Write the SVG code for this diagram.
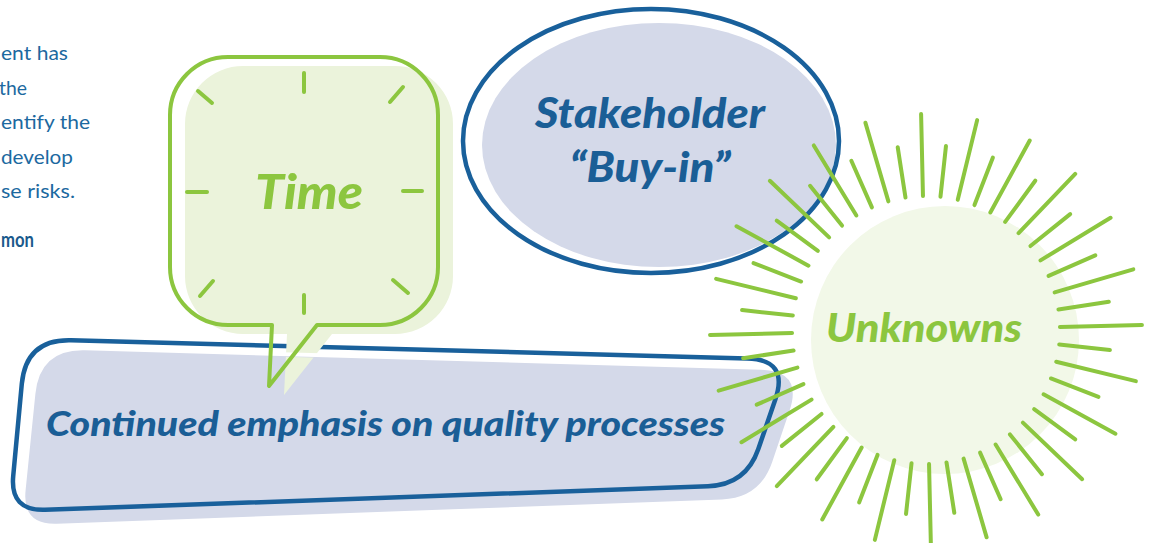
<svg xmlns="http://www.w3.org/2000/svg" xmlns:xlink="http://www.w3.org/1999/xlink" width="1151" height="543" viewBox="0 0 1151 543">
  <style>
    .body { font-family: Lato, "Open Sans", sans-serif; font-size: 20px; fill: #1c69a0; }
    .bodyb { font-family: Lato, "Open Sans", sans-serif; font-size: 20px; font-weight: 700; fill: #1a5a8c; }
    .lbl { font-family: Lato, "Open Sans", sans-serif; font-weight: 900; font-style: italic; }
    .blue { fill: #1a5e96; }
    .green { fill: #8cc63f; }
    .box-fill { fill: #d4d9e9; }
    .box-line { fill: none; stroke: #19609b; stroke-width: 4.5; }
    .time-shadow { fill: #ebf3db; }
    .time-line { fill: none; stroke: #8cc63f; stroke-width: 4; stroke-linejoin: round; }
    .tick { stroke: #8cc63f; stroke-width: 4; stroke-linecap: round; }
    .ray { stroke: #8cc63f; stroke-width: 4; stroke-linecap: round; }
  </style>
  <defs>
    <path id="boxPath" d="M71,340.2 L747,358.4 Q789,359.5 775.4,399.2 L758.3,449.1 Q746,485 708,486.3 L45,509.8 Q10,511 13.2,476.2 L21.8,383.8 Q26,339 71,340.2 Z"/>
    <path id="timePath" d="M228,57 H380 A58,58 0 0 1 438,115 V267 A58,58 0 0 1 380,325 H317 L269,386 L272,325 H228 A58,58 0 0 1 170,267 V115 A58,58 0 0 1 228,57 Z"/>
    <mask id="noBoxEdge" maskUnits="userSpaceOnUse" x="0" y="0" width="1151" height="543">
      <rect x="0" y="0" width="1151" height="543" fill="#fff"/>
      <use xlink:href="#boxPath" fill="none" stroke="#000" stroke-width="4.5"/>
    </mask>
    <line id="rl" class="ray" x1="134" y1="0" x2="216" y2="0"/>
    <line id="rs" class="ray" x1="134" y1="0" x2="185" y2="0"/>
  </defs>

  <g id="left-text">
    <text class="body" x="1" y="60" textLength="67" lengthAdjust="spacingAndGlyphs">ent has</text>
    <text class="body" x="-1" y="95" textLength="28" lengthAdjust="spacingAndGlyphs">the</text>
    <text class="body" x="1" y="129" textLength="89" lengthAdjust="spacingAndGlyphs">entify the</text>
    <text class="body" x="1" y="163.5" textLength="72" lengthAdjust="spacingAndGlyphs">develop</text>
    <text class="body" x="1" y="198" textLength="74" lengthAdjust="spacingAndGlyphs">se risks.</text>
    <text class="bodyb" x="1" y="247" textLength="33" lengthAdjust="spacingAndGlyphs">mon</text>
  </g>

  <g id="node-continued">
    <path class="box-fill" d="M85,350.3 L761,369.8 Q803,371 789.5,410.8 L772.2,462 Q760,498 722,499.4 L57,523.7 Q22,525 25.6,490.2 L35.4,393.8 Q40,349 85,350.3 Z"/>
    <use xlink:href="#boxPath" class="box-line"/>
    <text class="lbl blue" x="46" y="436" font-size="34" textLength="679" lengthAdjust="spacingAndGlyphs">Continued emphasis on quality processes</text>
  </g>

  <g id="node-time">
    <use xlink:href="#timePath" class="time-shadow" transform="translate(15,9)" mask="url(#noBoxEdge)"/>
    <use xlink:href="#timePath" class="time-line"/>
    <line class="tick" x1="304" y1="73" x2="304" y2="92"/>
    <line class="tick" x1="390" y1="102" x2="403" y2="87"/>
    <line class="tick" x1="403" y1="191" x2="422" y2="191"/>
    <line class="tick" x1="393" y1="280" x2="408" y2="293"/>
    <line class="tick" x1="304" y1="295" x2="304" y2="313"/>
    <line class="tick" x1="200" y1="296" x2="213" y2="281"/>
    <line class="tick" x1="187" y1="192" x2="207" y2="192"/>
    <line class="tick" x1="198" y1="91" x2="212" y2="103"/>
    <text class="lbl green" x="309" y="209" font-size="48" text-anchor="middle" textLength="108" lengthAdjust="spacingAndGlyphs">Time</text>
  </g>

  <g id="node-stakeholder">
    <ellipse cx="659" cy="145" rx="177" ry="122" class="box-fill"/>
    <ellipse cx="651" cy="141" rx="188" ry="132" fill="none" stroke="#19609b" stroke-width="4.5"/>
    <text class="lbl blue" x="650" y="128" font-size="42" text-anchor="middle" textLength="230" lengthAdjust="spacingAndGlyphs">Stakeholder</text>
    <text class="lbl blue" x="650" y="182" font-size="42" text-anchor="middle" textLength="161" lengthAdjust="spacingAndGlyphs">“Buy-in”</text>
  </g>

  <g id="node-unknowns">
    <circle cx="945" cy="340" r="134" fill="#f2f8e8"/>
    <text class="lbl green" x="924" y="342" font-size="40" text-anchor="middle" textLength="196" lengthAdjust="spacingAndGlyphs">Unknowns</text>
    <g transform="translate(926,330)">
      <use xlink:href="#rl" transform="rotate(-1.3)"/>
      <use xlink:href="#rs" transform="rotate(6.2)"/>
      <use xlink:href="#rl" transform="rotate(13.7)"/>
      <use xlink:href="#rs" transform="rotate(21.2)"/>
      <use xlink:href="#rl" transform="rotate(28.7)"/>
      <use xlink:href="#rs" transform="rotate(36.2)"/>
      <use xlink:href="#rl" transform="rotate(43.7)"/>
      <use xlink:href="#rs" transform="rotate(51.2)"/>
      <use xlink:href="#rl" transform="rotate(58.7)"/>
      <use xlink:href="#rs" transform="rotate(66.2)"/>
      <use xlink:href="#rl" transform="rotate(73.7)"/>
      <use xlink:href="#rs" transform="rotate(81.2)"/>
      <use xlink:href="#rl" transform="rotate(88.7)"/>
      <use xlink:href="#rs" transform="rotate(96.2)"/>
      <use xlink:href="#rl" transform="rotate(103.7)"/>
      <use xlink:href="#rs" transform="rotate(111.2)"/>
      <use xlink:href="#rl" transform="rotate(118.7)"/>
      <use xlink:href="#rs" transform="rotate(126.2)"/>
      <use xlink:href="#rl" transform="rotate(133.7)"/>
      <use xlink:href="#rs" transform="rotate(141.2)"/>
      <use xlink:href="#rl" transform="rotate(148.7)"/>
      <use xlink:href="#rs" transform="rotate(156.2)"/>
      <use xlink:href="#rl" transform="rotate(163.7)"/>
      <use xlink:href="#rs" transform="rotate(171.2)"/>
      <use xlink:href="#rl" transform="rotate(178.7)"/>
      <use xlink:href="#rs" transform="rotate(186.2)"/>
      <use xlink:href="#rl" transform="rotate(193.7)"/>
      <use xlink:href="#rs" transform="rotate(201.2)"/>
      <use xlink:href="#rl" transform="rotate(208.7)"/>
      <use xlink:href="#rs" transform="rotate(216.2)"/>
      <use xlink:href="#rl" transform="rotate(223.7)"/>
      <use xlink:href="#rs" transform="rotate(231.2)"/>
      <use xlink:href="#rl" transform="rotate(238.7)"/>
      <use xlink:href="#rs" transform="rotate(246.2)"/>
      <use xlink:href="#rl" transform="rotate(253.7)"/>
      <use xlink:href="#rs" transform="rotate(261.2)"/>
      <use xlink:href="#rl" transform="rotate(268.7)"/>
      <use xlink:href="#rs" transform="rotate(276.2)"/>
      <use xlink:href="#rl" transform="rotate(283.7)"/>
      <use xlink:href="#rs" transform="rotate(291.2)"/>
      <use xlink:href="#rl" transform="rotate(298.7)"/>
      <use xlink:href="#rs" transform="rotate(306.2)"/>
      <use xlink:href="#rl" transform="rotate(313.7)"/>
      <use xlink:href="#rs" transform="rotate(321.2)"/>
      <use xlink:href="#rl" transform="rotate(328.7)"/>
      <use xlink:href="#rs" transform="rotate(336.2)"/>
      <use xlink:href="#rl" transform="rotate(343.7)"/>
      <use xlink:href="#rs" transform="rotate(351.2)"/>
    </g>
  </g>

  <g id="connectors"/>
</svg>
